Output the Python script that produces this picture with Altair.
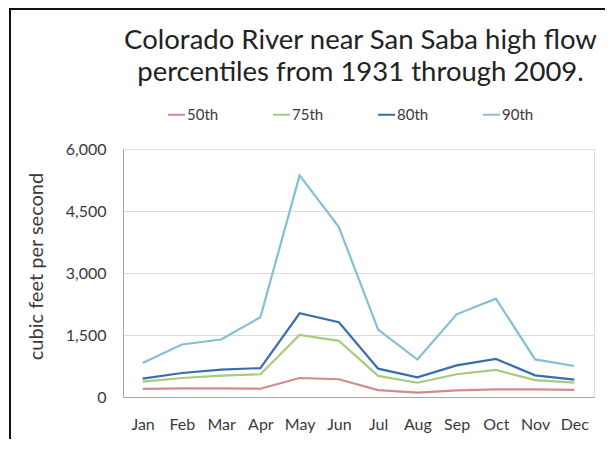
import altair as alt
import pandas as pd

months = ["Jan", "Feb", "Mar", "Apr", "May", "Jun", "Jul", "Aug", "Sep", "Oct", "Nov", "Dec"]
series_names = ["50th", "75th", "80th", "90th"]
p50 = [195, 210, 210, 200, 460, 430, 165, 105, 160, 185, 185, 170]
p75 = [370, 460, 515, 550, 1500, 1360, 510, 345, 550, 655, 410, 350]
p80 = [445, 580, 660, 700, 2025, 1810, 685, 475, 765, 920, 525, 420]
p90 = [825, 1270, 1390, 1930, 5360, 4110, 1630, 905, 2000, 2380, 910, 750]
colors = ["#D48A8A", "#A8C97F", "#3A6DAE", "#83C0D5"]
y_ticks = [0, 1500, 3000, 4500, 6000]

rows = []
for name, vals in zip(series_names, [p50, p75, p80, p90]):
    for m, v in zip(months, vals):
        rows.append({"month": m, "series": name, "value": v})
df = pd.DataFrame(rows)

FONT = "Lato"
TXT = "#3a3a3a"

lines = alt.Chart(df).mark_line(strokeWidth=2.2).encode(
    x=alt.X("month:O", sort=months, title=None,
            axis=alt.Axis(labelAngle=0, ticks=False, domainColor="#A6A6A6", grid=False,
                          labelFontSize=16, labelFont=FONT, labelColor=TXT, labelPadding=19)),
    y=alt.Y("value:Q", scale=alt.Scale(domain=[0, 6000], nice=False),
            title="cubic feet per second",
            axis=alt.Axis(values=y_ticks, format=",.0f", ticks=False, domainColor="#A6A6A6",
                          gridColor="#DCDCDC", labelFontSize=16, labelFont=FONT, labelColor=TXT,
                          labelPadding=17, titleFont=FONT, titleFontSize=20,
                          titleFontWeight="normal", titleColor=TXT, titlePadding=19,
                          titleY=117)),
    color=alt.Color("series:N", sort=series_names,
                    scale=alt.Scale(domain=series_names, range=colors),
                    legend=alt.Legend(title=None, orient="none", legendX=44, legendY=-44,
                                      direction="horizontal", symbolType="stroke",
                                      symbolSize=289, symbolStrokeWidth=2, labelOffset=1,
                                      columnPadding=50, labelFont=FONT, labelFontSize=15,
                                      labelColor=TXT)),
)

frame_data = pd.DataFrame({"k": [0]})
left_edge = alt.Chart(frame_data).mark_rule(color="#111", strokeWidth=2).encode(
    x=alt.value(-113), y=alt.value(-141), y2=alt.value(400))
top_edge = alt.Chart(frame_data).mark_rule(color="#111", strokeWidth=2).encode(
    x=alt.value(-114), x2=alt.value(600), y=alt.value(-140))

chart = alt.layer(lines, left_edge, top_edge).properties(
    width=471, height=248,
    autosize=alt.AutoSizeParams(type="none"),
    padding={"left": 115, "top": 141, "right": 11, "bottom": 42},
    title=alt.TitleParams(
        text=["Colorado River near San Saba high flow", "percentiles from 1931 through 2009."],
        font=FONT, fontSize=27.5, fontWeight="normal", color="#222222",
        anchor="middle", frame="group", lineHeight=32, offset=0, dy=79, dx=2),
).configure_view(stroke=None).configure(background="white")

chart.save("out.html", embed_options={"renderer": "svg", "actions": False})
